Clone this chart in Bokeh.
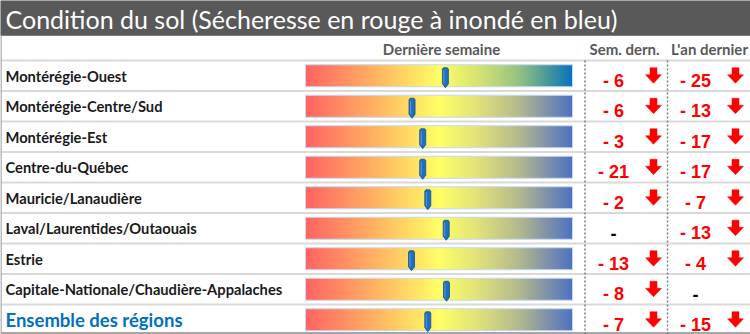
import numpy as np
from bokeh.plotting import figure
from bokeh.models import Range1d
from bokeh.embed import file_html
from bokeh.resources import INLINE
from bokeh.core.properties import value

# ---------------- data ----------------
title = "Condition du sol (Sécheresse en rouge à inondé en bleu)"
headers = ["Dernière semaine", "Sem. dern.", "L'an dernier"]
regions = [
    "Montérégie-Ouest",
    "Montérégie-Centre/Sud",
    "Montérégie-Est",
    "Centre-du-Québec",
    "Mauricie/Lanaudière",
    "Laval/Laurentides/Outaouais",
    "Estrie",
    "Capitale-Nationale/Chaudière-Appalaches",
    "Ensemble des régions",
]
gauge = [52.4, 39.9, 43.9, 43.9, 45.8, 52.7, 39.7, 52.8, 45.8]   # 0 = sec, 100 = inondé
sem_dern = [-6, -6, -3, -21, -2, None, -13, -8, -7]
an_dernier = [-25, -13, -17, -17, -7, -13, -4, None, -15]

# ---------------- layout / style ----------------
W, H = 750, 334
TITLE_H = 35
TOP = 60.0
ROW_H = 30.5
BAR_X0, BAR_W, BAR_H = 305.0, 267.0, 22.0
SEM_X, SEM_ARW = 613.0, 653.0
AN_X, AN_ARW = 695.0, 735.0
SEP1, SEP2 = 584.5, 667.0
LABEL_FONT = "Lato"
NUM_FONT = "Liberation Sans"

stops_a = [(0.0, "#FF6464"), (0.25, "#FFB062"), (0.5, "#FFFF66"), (0.65, "#D6E373"),
           (0.8, "#97C283"), (0.9, "#4E9C98"), (1.0, "#0872C0")]
stops_b = [(0.0, "#FF6464"), (0.25, "#FFB062"), (0.5, "#FFFF66"), (0.65, "#E0E27A"),
           (0.8, "#B4BA8E"), (0.9, "#8494A8"), (1.0, "#4F73C4")]


def hex2rgb(h):
    h = h.lstrip("#")
    return [int(h[i:i + 2], 16) for i in (0, 2, 4)]


def gradient(stops, n):
    pos = np.array([s[0] for s in stops])
    cols = np.array([hex2rgb(s[1]) for s in stops], dtype=float)
    t = np.linspace(0, 1, n)
    img = np.empty((1, n), dtype=np.uint32)
    view = img.view(dtype=np.uint8).reshape((1, n, 4))
    for c in range(3):
        view[0, :, c] = np.interp(t, pos, cols[:, c]).astype(np.uint8)
    view[0, :, 3] = 255
    return img


p = figure(width=W, height=H, x_range=Range1d(0, W), y_range=Range1d(H, 0),
           x_axis_location=None, y_axis_location=None, toolbar_location=None,
           output_backend="svg", min_border=0, outline_line_color=None,
           background_fill_color="white", border_fill_color="white")
p.grid.visible = False

n = len(regions)
centers = [TOP + ROW_H * (i + 0.5) for i in range(n)]

# title bar
p.quad(left=[0], right=[W], top=[0], bottom=[TITLE_H], fill_color="#595959", line_color="#7F7F7F")
p.text(x=[5], y=[TITLE_H / 2 + 1], text=[title], text_color="white",
       text_font=value(LABEL_FONT), text_font_size="25px", text_baseline="middle")

# headers
p.text(x=[441, 624, 709], y=[48, 48, 48], text=headers, text_color="#595959",
       text_font=value(LABEL_FONT), text_font_size="15px", text_font_style="bold",
       text_align="center", text_baseline="middle")

# row separators
sep_y = [TOP + ROW_H * i for i in range(n)]
p.segment(x0=[0] * n, x1=[W] * n, y0=sep_y, y1=sep_y, line_color="#D9D9D9", line_width=2)
p.segment(x0=[0], x1=[W], y0=[H - 1.5], y1=[H - 1.5], line_color="#A6A6A6", line_width=2)
p.segment(x0=[0.5], x1=[0.5], y0=[TITLE_H], y1=[H], line_color="#A6A6A6", line_width=1.5)

# dotted column separators
p.segment(x0=[SEP1, SEP2], x1=[SEP1, SEP2], y0=[TOP, TOP], y1=[H, H],
          line_color="#7F7F7F", line_width=1.5, line_dash="2 2")

# gauge bars
for i, yc in enumerate(centers):
    img = gradient(stops_a if i == 0 else stops_b, int(BAR_W))
    p.image_rgba(image=[img], x=BAR_X0, y=yc - BAR_H / 2, dw=BAR_W, dh=BAR_H)
p.quad(left=[BAR_X0] * n, right=[BAR_X0 + BAR_W] * n,
       top=[c - BAR_H / 2 for c in centers], bottom=[c + BAR_H / 2 for c in centers],
       fill_alpha=0, line_color="#C5D9F1", line_width=1)

# gauge pointers
mx, my = [], []
for g, yc in zip(gauge, centers):
    xc = BAR_X0 + BAR_W * g / 100.0
    t, b = yc - BAR_H / 2 + 3, yc + BAR_H / 2 + 1
    mx.append([xc - 3, xc - 2, xc + 2, xc + 3, xc + 3, xc, xc - 3])
    my.append([t + 1.5, t, t, t + 1.5, b - 4, b, b - 4])
p.patches(xs=mx, ys=my, fill_color="#1F6FC1", line_color="#12508F", line_width=0.8)
p.segment(x0=[xs[0] + 1.5 for xs in mx], x1=[xs[0] + 1.5 for xs in mx],
          y0=[ys[0] + 1 for ys in my], y1=[ys[4] for ys in my], line_color="#5A9BDB", line_width=1)


def fmt(v):
    return "-" if v is None else ("- %d" % abs(v) if v < 0 else "+ %d" % v)


def arrow(ax, ay):
    return ([ax - 3.5, ax + 3.5, ax + 3.5, ax + 8, ax, ax - 8, ax - 3.5],
            [ay - 8, ay - 8, ay - 1, ay - 1, ay + 7.5, ay - 1, ay - 1])


tx, ty, tt, tc = [], [], [], []
axs, ays = [], []
for col_vals, tx0, ax0 in ((sem_dern, SEM_X, SEM_ARW), (an_dernier, AN_X, AN_ARW)):
    for v, yc in zip(col_vals, centers):
        tx.append(tx0)
        ty.append(yc + 5)
        tt.append(fmt(v))
        tc.append("black" if v is None else "#FF0000")
        if v is not None:
            a = arrow(ax0, yc)
            axs.append(a[0])
            ays.append(a[1])

p.text(x=tx, y=ty, text=tt, text_color=tc, text_font=value(NUM_FONT),
       text_font_size="18px", text_font_style="bold", text_align="center",
       text_baseline="middle")
p.patches(xs=axs, ys=ays, fill_color="#FF0000", line_color="#FF0000", line_width=0.5)

# region labels
p.text(x=[5] * (n - 1), y=centers[:-1], text=regions[:-1], text_color="#1A1A1A",
       text_font=value(LABEL_FONT), text_font_size="14.7px", text_font_style="bold",
       text_baseline="middle")
p.text(x=[5], y=[centers[-1]], text=[regions[-1]], text_color="#0070C0",
       text_font=value(LABEL_FONT), text_font_size="18.5px", text_font_style="bold",
       text_baseline="middle")

open("out.html", "w").write(file_html(p, INLINE))
